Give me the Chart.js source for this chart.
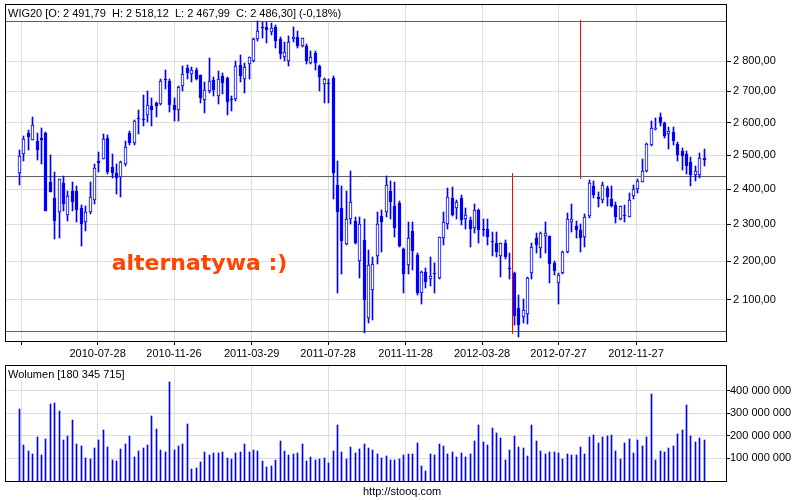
<!DOCTYPE html>
<html>
<head>
<meta charset="utf-8">
<script src="https://cdn.jsdelivr.net/npm/chart.js@4.4.1/dist/chart.umd.min.js"></script>
<style>
    html, body { margin: 0; padding: 0; background: #fff; }
    #wrap { position: relative; width: 800px; height: 500px; }
    canvas { position: absolute; left: 0; }
    #price { top: 0; }
    #vol { top: 362px; }
</style>
</head>
<body>
<div id="wrap">
    <canvas id="price" width="800" height="362"></canvas>
    <canvas id="vol" width="800" height="138"></canvas>
</div>
<script>
'use strict';

// weekly WIG20 candles, first week
const firstWeek = '2010-03-26';

const open = [
    2447, 2502, 2567, 2547, 2542, 2551, 2568, 2419, 2373, 2335, 2417, 2327, 2395, 2395, 2345, 2305,
    2335, 2369, 2481, 2489, 2553, 2465, 2446, 2436, 2473, 2568, 2537, 2615, 2611, 2623, 2652, 2661,
    2659, 2741, 2733, 2657, 2641, 2717, 2776, 2756, 2770, 2753, 2673, 2700, 2737, 2684, 2750, 2744,
    2676, 2676, 2787, 2742, 2789, 2802, 2875, 2917, 2918, 2901, 2918, 2877, 2814, 2800, 2877, 2883,
    2852, 2852, 2794, 2828, 2783, 2724, 2728, 2744, 2413, 2345, 2246, 2314, 2308, 2201, 2257, 2055,
    2124, 2214, 2324, 2333, 2395, 2350, 2359, 2232, 2190, 2282, 2217, 2116, 2172, 2153, 2170, 2155,
    2262, 2300, 2373, 2345, 2373, 2314, 2311, 2289, 2341, 2288, 2288, 2255, 2248, 2214, 2248, 2182,
    2170, 2080, 2056, 2064, 2168, 2261, 2234, 2268, 2267, 2196, 2142, 2168, 2225, 2307, 2295, 2285,
    2264, 2322, 2410, 2378, 2367, 2402, 2371, 2354, 2314, 2327, 2321, 2381, 2400, 2421, 2453, 2532,
    2580, 2619, 2600, 2566, 2570, 2534, 2514, 2504, 2478, 2442, 2442, 2491.79
];
const high = [
    2515, 2558, 2576, 2619, 2568, 2583, 2570, 2499, 2449, 2430, 2437, 2395, 2419, 2410, 2354, 2352,
    2419, 2473, 2510, 2565, 2563, 2505, 2473, 2483, 2542, 2573, 2608, 2641, 2687, 2702, 2678, 2666,
    2742, 2770, 2741, 2678, 2717, 2783, 2787, 2781, 2778, 2755, 2730, 2811, 2747, 2767, 2761, 2746,
    2684, 2800, 2820, 2794, 2815, 2878, 2940, 2936, 2936, 2932, 2924, 2883, 2867, 2886, 2917, 2903,
    2881, 2857, 2834, 2834, 2787, 2744, 2741, 2750, 2483, 2410, 2395, 2453, 2319, 2320, 2314, 2230,
    2212, 2333, 2340, 2437, 2424, 2419, 2365, 2235, 2305, 2307, 2221, 2173, 2182, 2210, 2196, 2265,
    2333, 2402, 2405, 2367, 2383, 2345, 2319, 2357, 2343, 2316, 2316, 2280, 2280, 2249, 2257, 2221,
    2172, 2113, 2102, 2158, 2250, 2277, 2280, 2305, 2268, 2201, 2170, 2228, 2331, 2357, 2310, 2300,
    2329, 2427, 2424, 2390, 2419, 2410, 2410, 2364, 2351, 2355, 2388, 2413, 2429, 2489, 2537, 2606,
    2616, 2632, 2601, 2586, 2586, 2539, 2522, 2514, 2494, 2468, 2507, 2518.12
];
const low = [
    2413, 2483, 2517, 2545, 2484, 2473, 2336, 2390, 2259, 2262, 2338, 2310, 2338, 2305, 2241, 2282,
    2329, 2357, 2449, 2487, 2444, 2432, 2386, 2376, 2468, 2532, 2532, 2566, 2588, 2603, 2591, 2619,
    2655, 2709, 2635, 2605, 2605, 2700, 2742, 2730, 2737, 2662, 2630, 2695, 2684, 2659, 2691, 2625,
    2638, 2670, 2731, 2695, 2742, 2798, 2869, 2878, 2863, 2890, 2846, 2809, 2802, 2783, 2867, 2846,
    2849, 2789, 2789, 2772, 2700, 2662, 2662, 2371, 2118, 2166, 2244, 2300, 2247, 2155, 2017, 2042,
    2049, 2192, 2225, 2319, 2314, 2264, 2239, 2116, 2166, 2177, 2111, 2090, 2129, 2135, 2118, 2153,
    2243, 2286, 2324, 2316, 2298, 2288, 2237, 2275, 2248, 2268, 2243, 2214, 2212, 2158, 2205, 2153,
    2036, 2007, 2043, 2039, 2153, 2221, 2208, 2223, 2144, 2164, 2090, 2166, 2223, 2279, 2262, 2225,
    2237, 2317, 2374, 2348, 2360, 2352, 2348, 2303, 2311, 2307, 2320, 2371, 2389, 2420, 2449, 2527,
    2578, 2590, 2551, 2520, 2532, 2481, 2455, 2444, 2410, 2424, 2432, 2467.99
];
const close = [
    2497, 2550, 2555, 2593, 2515, 2546, 2338, 2392, 2310, 2429, 2357, 2381, 2364, 2341, 2300, 2335,
    2378, 2463, 2476, 2549, 2451, 2447, 2432, 2478, 2524, 2537, 2606, 2611, 2607, 2655, 2641, 2652,
    2733, 2738, 2655, 2641, 2713, 2756, 2759, 2770, 2741, 2678, 2703, 2733, 2703, 2742, 2728, 2666,
    2672, 2783, 2750, 2780, 2814, 2877, 2903, 2913, 2907, 2915, 2869, 2823, 2832, 2867, 2883, 2852,
    2880, 2800, 2814, 2794, 2747, 2742, 2724, 2446, 2333, 2255, 2316, 2362, 2249, 2300, 2100, 2190,
    2192, 2300, 2307, 2413, 2364, 2289, 2241, 2166, 2261, 2228, 2116, 2172, 2146, 2160, 2166, 2264,
    2307, 2378, 2326, 2362, 2311, 2327, 2286, 2341, 2284, 2284, 2266, 2252, 2225, 2248, 2210, 2179,
    2059, 2036, 2073, 2157, 2237, 2243, 2277, 2275, 2192, 2175, 2164, 2225, 2316, 2316, 2284, 2261,
    2319, 2417, 2384, 2371, 2413, 2378, 2352, 2321, 2350, 2325, 2369, 2400, 2424, 2453, 2535, 2583,
    2583, 2600, 2558, 2573, 2542, 2500, 2497, 2468, 2442, 2453, 2492, 2486.30
];
const changePct = -0.18;

// volume, millions of shares
const volume = [
    319, 161, 134, 120, 196, 117, 188, 343, 347, 312, 183, 201, 272, 165, 157, 103,
    99, 148, 183, 227, 152, 95, 90, 143, 165, 201, 108, 134, 148, 161, 290, 232,
    139, 130, 440, 139, 157, 165, 254, 55, 59, 86, 130, 117, 126, 126, 130, 103,
    99, 126, 130, 165, 130, 139, 134, 90, 64, 68, 95, 179, 134, 117, 121, 126,
    165, 90, 108, 95, 99, 103, 81, 134, 250, 130, 99, 152, 126, 143, 165, 148,
    139, 121, 103, 112, 95, 95, 97, 117, 121, 121, 170, 68, 46, 121, 117, 165,
    157, 121, 130, 108, 126, 108, 121, 179, 250, 174, 161, 236, 214, 192, 95, 139,
    201, 152, 148, 112, 250, 179, 134, 121, 130, 130, 126, 99, 121, 117, 117, 152,
    121, 196, 205, 170, 196, 201, 205, 134, 99, 170, 188, 126, 183, 157, 196, 387,
    95, 134, 130, 148, 157, 210, 227, 338, 201, 174, 192, 180.345715
];

const tickDates = ['2010-03-29', '2010-07-28', '2010-11-26', '2011-03-29', '2011-07-28',
    '2011-11-28', '2012-03-28', '2012-07-27', '2012-11-27'];
const priceTicks = [2100, 2200, 2300, 2400, 2500, 2600, 2700, 2800];
const volumeTicks = [100, 200, 300, 400];

// hand drawn levels and markers on the chart
const levels = [2939, 2437, 2021];
const markerX = [111.56, 126.95];
const markerTop = [2444, 2940];
const markerBottom = [2017, 2431];

const BLUE = '#0000ff';
const GRID = '#dddddd';
const X_MIN = -3.25, X_MAX = 160.15;

Chart.defaults.font.family = '"Liberation Sans", Arial, sans-serif';
Chart.defaults.font.size = 11;
Chart.defaults.color = '#000';

function weekPos(d) {
    return (Date.parse(d) - Date.parse(firstWeek)) / (7 * 864e5);
}

function fmtSpace(s) {
    return String(s).replace(/\B(?=(\d{3})+(?!\d))/g, ' ');
}

function fmtPrice(v) {
    let parts = v.toFixed(2).split('.');
    return fmtSpace(parts[0]) + ',' + parts[1];
}

let last = close.length - 1;
let titleText = 'WIG20 [O: ' + fmtPrice(open[last]) + '  H: ' + fmtPrice(high[last]) +
    '  L: ' + fmtPrice(low[last]) + '  C: ' + fmtPrice(close[last]) + '] (' +
    changePct.toFixed(2).replace('.', ',') + '%)';
let volText = 'Wolumen [' + fmtSpace(Math.round(volume[last] * 1e6)) + ']';

// keep candles and lines on whole pixels
const snapPixels = {
    id: 'snapPixels',
    beforeDatasetsDraw(chart) {
        chart.getSortedVisibleDatasetMetas().forEach(function(meta) {
            meta.data.forEach(function(el) {
                el.x = Math.floor(el.x) + 0.5;
                if (meta.type === 'bar') {
                    let y = Math.round(el.y), b = Math.round(el.base);
                    if (y === b) b = y + 1;
                    el.y = y;
                    el.base = b;
                } else {
                    el.y = Math.floor(el.y) + 0.5;
                }
            });
        });
    }
};

function panelBorder(chart) {
    let ctx = chart.ctx, a = chart.chartArea;
    ctx.save();
    ctx.strokeStyle = '#000';
    ctx.lineWidth = 1;
    ctx.strokeRect(a.left + 0.5, a.top + 0.5, a.right - a.left - 1, a.bottom - a.top);
    ctx.restore();
}

function labelBox(chart, text, w) {
    let ctx = chart.ctx, a = chart.chartArea;
    ctx.save();
    ctx.fillStyle = '#fff';
    ctx.fillRect(a.left + 1, a.top + 1, w, 16);
    ctx.fillStyle = '#000';
    ctx.font = '11px "Liberation Sans", Arial, sans-serif';
    ctx.textBaseline = 'middle';
    ctx.fillText(text, a.left + 3, a.top + 9.5);
    ctx.restore();
}

const pricePanel = {
    id: 'pricePanel',
    beforeDatasetsDraw(chart) {
        labelBox(chart, titleText, 333);
    },
    afterDraw(chart) {
        let ctx = chart.ctx;
        ctx.save();
        ctx.fillStyle = '#ff4500';
        ctx.font = 'bold 22px "DejaVu Sans", sans-serif';
        ctx.textAlign = 'center';
        ctx.fillText('alternatywa :)', 199.5, 270);
        ctx.restore();
        panelBorder(chart);
    }
};

const volumePanel = {
    id: 'volumePanel',
    beforeDatasetsDraw(chart) {
        labelBox(chart, volText, 118);
    },
    afterDraw(chart) {
        let ctx = chart.ctx;
        panelBorder(chart);
        ctx.save();
        ctx.fillStyle = '#000';
        ctx.font = '11px "Liberation Sans", Arial, sans-serif';
        ctx.textBaseline = 'middle';
        ctx.fillText('http://stooq.com', 363, 130);
        ctx.restore();
    }
};

function dateAxis(showLabels, height) {
    return {
        type: 'linear',
        min: X_MIN,
        max: X_MAX,
        offset: false,
        border: { display: false },
        grid: { color: GRID, offset: false, drawTicks: showLabels, tickLength: 4, tickColor: '#000' },
        ticks: {
            display: showLabels,
            autoSkip: false,
            maxRotation: 0,
            padding: 2,
            // first label doesn't fit on the left
            callback: (v, i) => i === 0 ? '' : tickDates[i]
        },
        afterBuildTicks: function(s) {
            s.ticks = tickDates.map(d => ({ value: weekPos(d) }));
        },
        afterFit: function(s) {
            s.height = height;
            s.paddingLeft = 0;
            s.paddingRight = 0;
        }
    };
}

let idx = close.map((_, i) => i);

new Chart(document.getElementById('price'), {
    type: 'bar',
    data: {
        datasets: levels.map(v => ({
            type: 'line',
            data: [{ x: X_MIN, y: v }, { x: X_MAX, y: v }],
            borderColor: '#606060',
            borderWidth: 1,
            pointRadius: 0,
            order: 3
        })).concat(markerX.map((x, i) => ({
            type: 'line',
            data: [{ x: x, y: markerTop[i] }, { x: x, y: markerBottom[i] }],
            borderColor: '#ff0000',
            borderWidth: 1,
            pointRadius: 0,
            order: 3
        }))).concat([
            {
                // wicks
                data: idx.map(i => ({ x: i, y: [low[i], high[i]] })),
                backgroundColor: BLUE,
                borderWidth: 0,
                barThickness: 1,
                grouped: false,
                order: 2
            },
            {
                // bodies
                data: idx.map(i => ({ x: i, y: [open[i], close[i]] })),
                backgroundColor: c => close[c.dataIndex] < open[c.dataIndex] ? BLUE : '#ffffff',
                borderColor: BLUE,
                borderWidth: 1,
                borderSkipped: false,
                barThickness: 3,
                grouped: false,
                order: 1
            }
        ])
    },
    options: {
        responsive: false,
        animation: false,
        events: [],
        layout: { padding: { left: 5, top: 4, right: 0, bottom: 0 } },
        plugins: { legend: { display: false }, tooltip: { enabled: false } },
        scales: {
            x: dateAxis(true, 21),
            y: {
                type: 'logarithmic',
                position: 'right',
                min: 1998,
                max: 3000,
                border: { display: false },
                grid: { color: GRID, tickLength: 4, tickColor: '#000' },
                ticks: { padding: 2, callback: v => fmtPrice(v) },
                afterBuildTicks: function(s) {
                    s.ticks = priceTicks.map(v => ({ value: v }));
                },
                afterFit: function(s) {
                    s.width = 73;
                    s.paddingTop = 0;
                    s.paddingBottom = 0;
                }
            }
        }
    },
    plugins: [snapPixels, pricePanel]
});

new Chart(document.getElementById('vol'), {
    type: 'bar',
    data: {
        datasets: [{
            data: idx.map(i => ({ x: i, y: volume[i] })),
            backgroundColor: BLUE,
            borderWidth: 0,
            barThickness: 1,
            grouped: false
        }]
    },
    options: {
        responsive: false,
        animation: false,
        events: [],
        layout: { padding: { left: 5, top: 3, right: 0, bottom: 0 } },
        plugins: { legend: { display: false }, tooltip: { enabled: false } },
        scales: {
            x: dateAxis(false, 19),
            y: {
                type: 'linear',
                position: 'right',
                min: 0,
                max: 514,
                border: { display: false },
                grid: { color: GRID, tickLength: 3, tickColor: '#000' },
                ticks: { padding: 0, callback: v => fmtSpace(v * 1e6) },
                afterBuildTicks: function(s) {
                    s.ticks = volumeTicks.map(v => ({ value: v }));
                },
                afterFit: function(s) {
                    s.width = 73;
                    s.paddingTop = 0;
                    s.paddingBottom = 0;
                }
            }
        }
    },
    plugins: [snapPixels, volumePanel]
});
</script>
</body>
</html>
